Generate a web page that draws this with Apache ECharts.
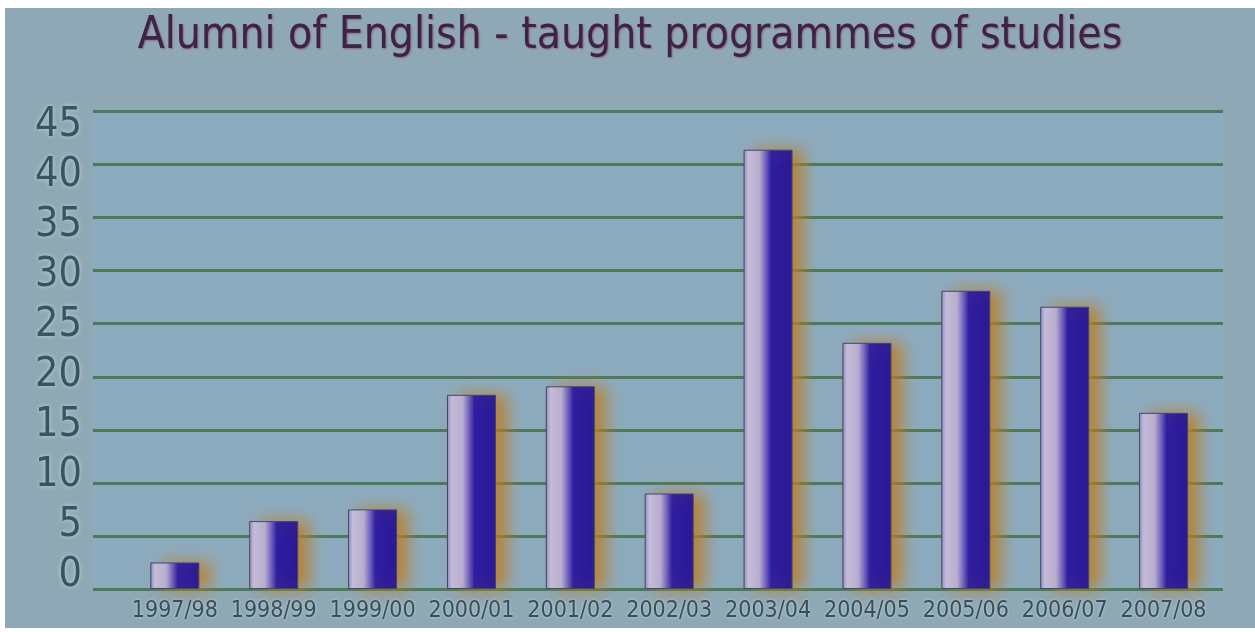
<!DOCTYPE html>
<html>
<head>
<meta charset="utf-8">
<script src="https://cdn.jsdelivr.net/npm/echarts@6/dist/echarts.min.js"></script>
<style>
html,body{margin:0;padding:0;background:#ffffff;}
#wrap{position:absolute;left:0;top:0;width:1255px;height:632px;background:#ffffff;}
#chart{position:absolute;left:5px;top:8px;width:1250px;height:620px;}
</style>
</head>
<body>
<div id="wrap"><div id="chart"></div></div>
<script>
const titleText = "Alumni of English - taught programmes of studies";
const categories = ["1997/98","1998/99","1999/00","2000/01","2001/02","2002/03","2003/04","2004/05","2005/06","2006/07","2007/08"];
const alumni = [2.5, 6.4, 7.5, 18.3, 19.1, 9.0, 41.4, 23.2, 28.1, 26.6, 16.6];
const yMin = 0, yMax = 45, yStep = 5;

// chart div is offset by (5,8) inside the page
const OX = 5, OY = 8;
const chart = echarts.init(document.getElementById('chart'), null, {renderer:'canvas'});

const FONT = '"DejaVu Sans Condensed", "Liberation Sans", sans-serif';

const barFill = new echarts.graphic.LinearGradient(0,0,1,0,[
  {offset:0, color:'#9089c2'},
  {offset:0.1, color:'#c6bfe0'},
  {offset:0.32, color:'#b8b0d8'},
  {offset:0.46, color:'#6a5cc0'},
  {offset:0.56, color:'#2f1ea0'},
  {offset:1, color:'#2a1896'}
]);

chart.setOption({
  backgroundColor: '#8ea9b5',
  animation: false,
  title: {
    text: titleText,
    left: 'center',
    top: 2,
    textStyle: {
      fontFamily: FONT,
      fontSize: 44,
      fontWeight: 'normal',
      color: '#3b2446',
      textShadowColor: 'rgba(150,40,80,0.55)',
      textShadowBlur: 2,
      textShadowOffsetX: 1,
      textShadowOffsetY: 1
    }
  },
  grid: [
    // labels-only grid for the y tick labels
    {left: 90 - OX, width: 1, top: 125.5 - OY, bottom: 628 - 575, outerBoundsMode: 'none'},
    // gridline grid
    {left: 93 - OX, right: 1255 - 1223, top: 111.5 - OY, bottom: 628 - 589, show: true, backgroundColor: '#8dabbf', borderWidth: 0, outerBoundsMode: 'none'},
    // bars grid
    {left: 125.4 - OX, right: 42, top: 111.5 - OY, bottom: 628 - 589, outerBoundsMode: 'none'}
  ],
  xAxis: [
    {gridIndex: 0, type: 'category', data: categories, show: false},
    {gridIndex: 1, type: 'category', data: categories, show: false},
    {gridIndex: 2, type: 'category', data: categories,
      axisLine: {show: false}, axisTick: {show: false},
      axisLabel: {
        interval: 0, margin: 11,
        fontFamily: FONT,
        fontSize: 23, color: '#3a4c5c',
        textShadowColor: 'rgba(220,235,240,0.7)', textShadowBlur: 3
      }
    }
  ],
  yAxis: [
    {gridIndex: 0, type: 'value', min: yMin, max: yMax, interval: yStep,
      axisLine: {show: false}, axisTick: {show: false}, splitLine: {show: false},
      axisLabel: {
        margin: 8,
        fontFamily: FONT,
        fontSize: 41, color: '#3a5262',
        textShadowColor: 'rgba(215,230,238,0.7)', textShadowBlur: 4
      }
    },
    {gridIndex: 1, type: 'value', min: yMin, max: yMax, interval: yStep,
      axisLine: {show: false}, axisTick: {show: false}, axisLabel: {show: false},
      splitLine: {show: true, lineStyle: {color: '#4c7a5c', width: 3}}
    },
    {gridIndex: 2, type: 'value', min: yMin, max: yMax, interval: yStep, show: false, splitLine: {show: false}}
  ],
  series: [{
    type: 'bar',
    xAxisIndex: 2, yAxisIndex: 2,
    data: alumni,
    barWidth: 49,
    itemStyle: {
      color: barFill,
      borderColor: '#3b4a6e',
      borderWidth: 1,
      shadowColor: 'rgba(190,125,35,0.85)',
      shadowBlur: 16,
      shadowOffsetX: 11,
      shadowOffsetY: 0
    }
  }]
});
</script>
</body>
</html>
